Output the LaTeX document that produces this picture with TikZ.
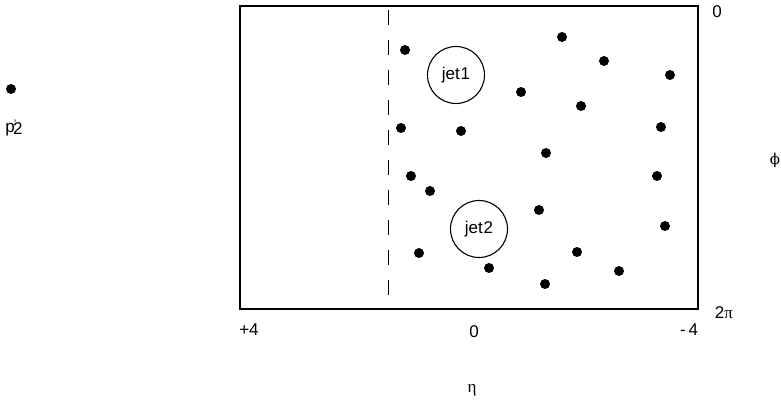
\documentclass[tikz,border=0pt]{standalone}
\usepackage{fontspec}
\setmainfont{Liberation Sans}
\newfontfamily\greekfont{DejaVu Serif}
\begin{document}
\begin{tikzpicture}[x=1pt,y=-1pt,
  dot/.style={fill=black,draw=none,circle,minimum size=10pt,inner sep=0pt},
  jetc/.style={draw=black,circle,line width=1.1pt,minimum size=57pt,inner sep=0pt,font=\fontsize{17}{19}\selectfont},
  lbl/.style={inner sep=0pt,font=\fontsize{17}{19}\selectfont}]
\useasboundingbox (0,0) rectangle (781,403);
\draw[line width=1.3pt] (240,6) rectangle (698,309);
\coordinate (dtop) at (388,10);
\coordinate (dbot) at (388,309);
\draw[dash pattern=on 15pt off 15pt,line width=1pt] (dtop) -- (dbot);
\node[jetc] (jet1) at (456,75) {jet\hspace{1pt}1};
\node[jetc] (jet2) at (479,229) {jet\hspace{1pt}2};
\foreach \x/\y [count=\i] in {405/50,562/37,604/61,670/75,521/92,581/106,401/128,461/131,661/127,546/153,411/176,430/191,657/176,539/210,665/226,419/253,577/252,489/268,619/271,545/284}
  \node[dot] (d\i) at (\x,\y) {};
\node[dot] (pout) at (11,89) {};
\node[lbl] (plabel) at (14,128) {p\kern-1pt\raisebox{0.5ex}{\fontsize{11}{11}\selectfont'}\kern-3pt\raisebox{-0.3ex}{2}};
\node[lbl] (phi0) at (717,12) {0};
\node[lbl] (phi2) at (724,313) {2{\fontspec{Liberation Serif}π}};
\node[lbl] (phi) at (775,160) {\greekfont\fontsize{15}{17}\selectfont ϕ};
\node[lbl] (etap) at (249,330) {+4};
\node[lbl] (eta0) at (474,332) {0};
\node[lbl] (etam) at (689,330) {-\,4};
\node[lbl] (eta) at (472,390) {\fontspec{Liberation Serif}η};
\end{tikzpicture}
\end{document}
